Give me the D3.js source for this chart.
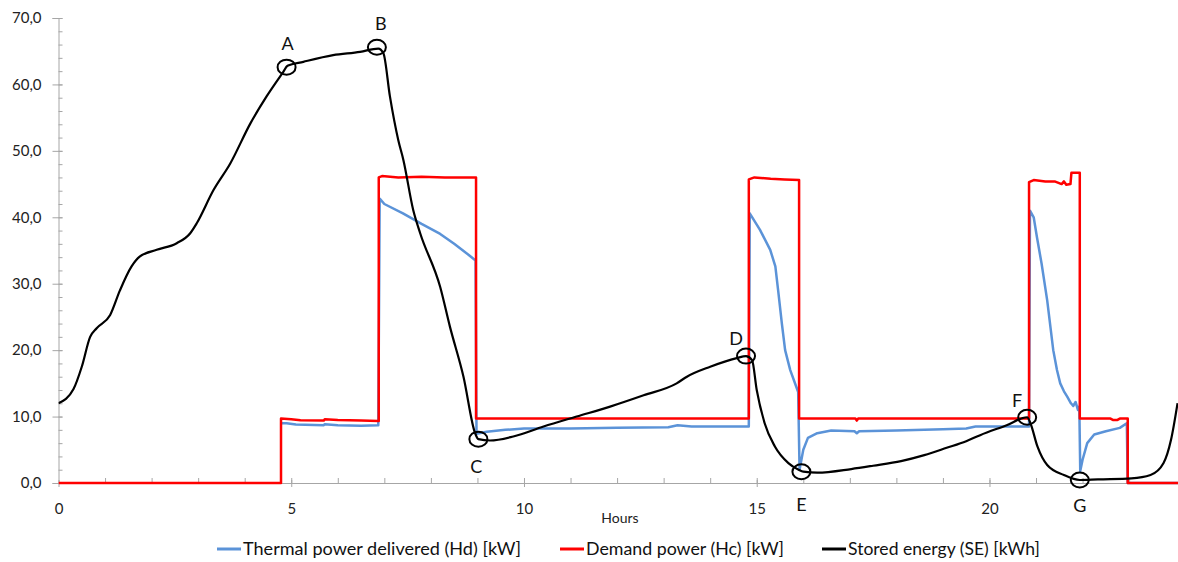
<!DOCTYPE html>
<html>
<head>
<meta charset="utf-8">
<script src="https://cdn.jsdelivr.net/npm/d3@7"></script>
<style>
  body { margin: 0; background: #fff; }
  svg { display: block; font-family: Lato, "Open Sans", sans-serif; }
</style>
</head>
<body>
<svg id="chart"></svg>
<script>
// [hours, value] readings
let demandPower = [
  [0, 0], [4.78, 0], [4.78, 9.7], [5.0, 9.6], [5.2, 9.45], [5.7, 9.4], [5.72, 9.6], [6.0, 9.5],
  [6.5, 9.4], [6.88, 9.35], [6.88, 46.0], [6.95, 46.2], [7.3, 46.0], [7.8, 46.1], [8.3, 46.0],
  [8.97, 46.0], [8.97, 9.7], [14.83, 9.7], [14.83, 45.7], [14.95, 46.0], [15.3, 45.8], [15.6, 45.7],
  [15.91, 45.6], [15.91, 9.7], [17.12, 9.7], [17.15, 9.4], [17.18, 9.7], [20.85, 9.7], [20.85, 45.3],
  [20.95, 45.6], [21.2, 45.4], [21.4, 45.4], [21.55, 45.0], [21.6, 45.4], [21.65, 44.9], [21.74, 45.0],
  [21.76, 46.7], [21.94, 46.7], [21.94, 9.7], [22.6, 9.7], [22.65, 9.5], [22.75, 9.5], [22.8, 9.7],
  [22.97, 9.7], [22.97, 0], [24.05, 0]
];

let thermalPower = [
  [4.8, 9.0], [4.9, 9.0], [5.1, 8.8], [5.7, 8.7], [5.72, 8.85], [6.0, 8.7], [6.5, 8.6], [6.87, 8.7],
  [6.9, 42.8], [7.0, 42.0], [7.4, 40.6], [7.8, 39.0], [8.2, 37.5], [8.5, 36.0], [8.8, 34.4], [8.96, 33.5],
  [8.98, 7.4], [9.2, 7.7], [9.6, 8.0], [10.0, 8.2], [11.0, 8.2], [12.0, 8.3], [13.1, 8.4], [13.3, 8.7],
  [13.6, 8.5], [14.83, 8.5], [14.85, 40.6], [15.07, 38.1], [15.29, 35.1], [15.4, 32.6], [15.46, 29.0],
  [15.54, 24.0], [15.61, 20.0], [15.72, 17.0], [15.89, 13.7], [15.92, 2.0], [16.0, 5.0], [16.1, 6.8],
  [16.3, 7.5], [16.6, 7.9], [17.1, 7.8], [17.15, 7.5], [17.2, 7.8], [18.0, 7.9], [19.0, 8.1], [19.5, 8.2],
  [19.7, 8.5], [20.85, 8.5], [20.87, 41.0], [20.95, 40.0], [21.02, 37.0], [21.12, 33.0], [21.24, 27.5],
  [21.37, 20.0], [21.45, 17.0], [21.52, 15.0], [21.6, 13.8], [21.67, 13.0], [21.75, 12.0], [21.8, 11.6],
  [21.85, 12.2], [21.9, 11.0], [21.93, 11.5], [21.95, 1.8], [22.0, 3.5], [22.1, 6.0], [22.25, 7.3],
  [22.5, 7.8], [22.8, 8.3], [22.95, 9.0], [22.97, 0], [24.05, 0]
];

let storedEnergy = [
  [0, 12.0], [0.32, 14.1], [0.5, 17.5], [0.68, 22.0], [0.82, 23.3], [1.11, 25.3], [1.32, 29.0],
  [1.57, 32.6], [1.75, 34.1], [2.11, 35.1], [2.54, 36.1], [2.83, 37.6], [2.97, 39.1], [3.33, 44.1],
  [3.69, 48.1], [4.12, 54.1], [4.47, 58.2], [4.83, 61.9], [4.92, 62.8], [5.26, 63.4], [5.9, 64.4],
  [6.48, 64.9], [6.87, 65.4], [6.98, 64.7], [7.12, 58.2], [7.3, 51.6], [7.41, 48.6], [7.62, 41.1],
  [7.77, 37.6], [8.2, 29.5], [8.41, 23.5], [8.7, 16.0], [8.95, 7.5], [9.02, 6.6], [9.27, 6.4],
  [9.77, 7.0], [10.42, 8.5], [11.13, 10.0], [11.85, 11.5], [12.57, 13.2], [13.28, 15.0], [13.5, 16.0],
  [14.0, 17.5], [14.57, 18.8], [14.77, 19.1], [14.9, 18.5], [15.0, 14.0], [15.17, 9.0], [15.39, 5.5],
  [15.68, 3.0], [15.9, 2.0], [16.0, 1.7], [16.3, 1.55], [17.03, 2.1], [17.5, 2.6], [18.1, 3.3],
  [18.6, 4.2], [19.08, 5.3], [19.5, 6.3], [19.8, 7.2], [20.37, 8.7], [20.81, 9.9], [20.88, 9.0],
  [21.03, 5.5], [21.24, 2.7], [21.6, 1.2], [21.94, 0.45], [22.33, 0.55], [23.05, 0.7], [23.46, 1.2],
  [23.74, 3.0], [23.9, 6.5], [24.04, 12.0]
];

let markerLabels = ["A", "B", "C", "D", "E", "F", "G"];
let markerHours  = [4.9, 6.84, 9.02, 14.77, 15.96, 20.81, 21.94];
let markerValues = [62.6, 65.6, 6.6, 19.1, 1.7, 9.9, 0.45];

let xMajorTicks = [0, 5, 10, 15, 20];
let yMajorTicks = [0, 10, 20, 30, 40, 50, 60, 70];

let seriesNames = ["Thermal power delivered (Hd) [kW]", "Demand power (Hc) [kW]", "Stored energy (SE) [kWh]"];

function drawChart() {
    let W = 1178, H = 562;
    let plot = {left: 58.5, right: 1178, top: 18, bottom: 483};

    let svg = d3.select("#chart").attr("width", W).attr("height", H);

    let x = d3.scaleLinear().domain([0, 24.05]).range([plot.left, plot.right]);
    let y = d3.scaleLinear().domain([0, 70]).range([plot.bottom, plot.top]);

    let fmt = d => d3.format(".1f")(d).replace(".", ",");
    let axisColor = "#a6a6a6";

    // y axis: major ticks cross the line, minor ticks point inward
    let yMinor = svg.append("g")
        .attr("transform", "translate(" + plot.left + ",0)")
        .call(d3.axisRight(y).tickValues(d3.range(0, 70.1, 2)).tickSize(4).tickFormat(""));
    let yAxis = svg.append("g")
        .attr("transform", "translate(" + plot.left + ",0)")
        .call(d3.axisLeft(y).tickValues(yMajorTicks).tickSize(6).tickPadding(11).tickFormat(fmt));
    yAxis.selectAll(".tick line").attr("x2", -6).attr("x1", 4);

    // x axis
    let xMinor = svg.append("g")
        .attr("transform", "translate(0," + plot.bottom + ")")
        .call(d3.axisTop(x).tickValues(d3.range(1, 24, 1)).tickSize(5).tickFormat(""));
    let xAxis = svg.append("g")
        .attr("transform", "translate(0," + plot.bottom + ")")
        .call(d3.axisBottom(x).tickValues(xMajorTicks).tickSize(4).tickPadding(16).tickFormat(d3.format("d")));
    xAxis.selectAll(".tick line").attr("y1", -3).attr("y2", 4);
    xAxis.select(".domain").attr("d", "M" + plot.left + ",0.5H" + W);

    [yMinor, yAxis, xMinor, xAxis].forEach(g => {
        g.selectAll("line").attr("stroke", axisColor);
        g.selectAll(".domain").attr("stroke", axisColor);
        g.selectAll("text").attr("fill", "#222").attr("font-size", "15px")
            .attr("font-family", "Lato, sans-serif");
    });
    yMinor.select(".domain").remove();
    xMinor.select(".domain").remove();

    svg.append("text")
        .attr("x", 620)
        .attr("y", 523)
        .attr("text-anchor", "middle")
        .attr("font-size", "14px")
        .attr("fill", "#222")
        .text("Hours");

    svg.append("clipPath").attr("id", "plotClip")
        .append("rect")
        .attr("x", plot.left).attr("y", 0)
        .attr("width", plot.right - plot.left).attr("height", plot.bottom + 2);

    let lines = svg.append("g").attr("clip-path", "url(#plotClip)");

    let straight = d3.line().x(d => x(d[0])).y(d => y(d[1]));
    let smooth = d3.line().x(d => x(d[0])).y(d => y(d[1])).curve(d3.curveMonotoneX);

    lines.append("path")
        .attr("d", straight(thermalPower))
        .attr("fill", "none")
        .attr("stroke", "#5b93d8")
        .attr("stroke-width", 2.5)
        .attr("stroke-linejoin", "round");

    lines.append("path")
        .attr("d", straight(demandPower))
        .attr("fill", "none")
        .attr("stroke", "#ff0000")
        .attr("stroke-width", 2.5)
        .attr("stroke-linejoin", "round");

    lines.append("path")
        .attr("d", smooth(storedEnergy))
        .attr("fill", "none")
        .attr("stroke", "#000")
        .attr("stroke-width", 2.2)
        .attr("stroke-linejoin", "round");

    // circled points with letters
    let labelOffset = [[1, -24], [4, -24], [-2, 27], [-10, -18], [0, 32], [-10, -17], [0, 25]];
    let markers = svg.append("g");
    markerLabels.forEach((lab, i) => {
        let cx = x(markerHours[i]), cy = y(markerValues[i]);
        markers.append("ellipse")
            .attr("cx", cx).attr("cy", cy)
            .attr("rx", 9).attr("ry", 7.5)
            .attr("fill", "none")
            .attr("stroke", "#000")
            .attr("stroke-width", 2);
        markers.append("text")
            .attr("x", cx + labelOffset[i][0])
            .attr("y", cy + labelOffset[i][1])
            .attr("text-anchor", "middle")
            .attr("dominant-baseline", "central")
            .attr("font-size", "18px")
            .attr("fill", "#111")
            .text(lab);
    });

    // legend
    let legendColors = ["#5b93d8", "#ff0000", "#000"];
    let legendX = [217, 560, 822];
    let legendW = [278, 198, 192];
    let legend = svg.append("g").attr("font-size", "16.5px");
    seriesNames.forEach((name, i) => {
        legend.append("line")
            .attr("x1", legendX[i]).attr("x2", legendX[i] + 24)
            .attr("y1", 549).attr("y2", 549)
            .attr("stroke", legendColors[i])
            .attr("stroke-width", 3);
        legend.append("text")
            .attr("x", legendX[i] + 26)
            .attr("y", 549)
            .attr("dominant-baseline", "central")
            .attr("textLength", legendW[i])
            .attr("lengthAdjust", "spacingAndGlyphs")
            .attr("fill", "#111")
            .text(name);
    });
}
drawChart();
</script>
</body>
</html>
